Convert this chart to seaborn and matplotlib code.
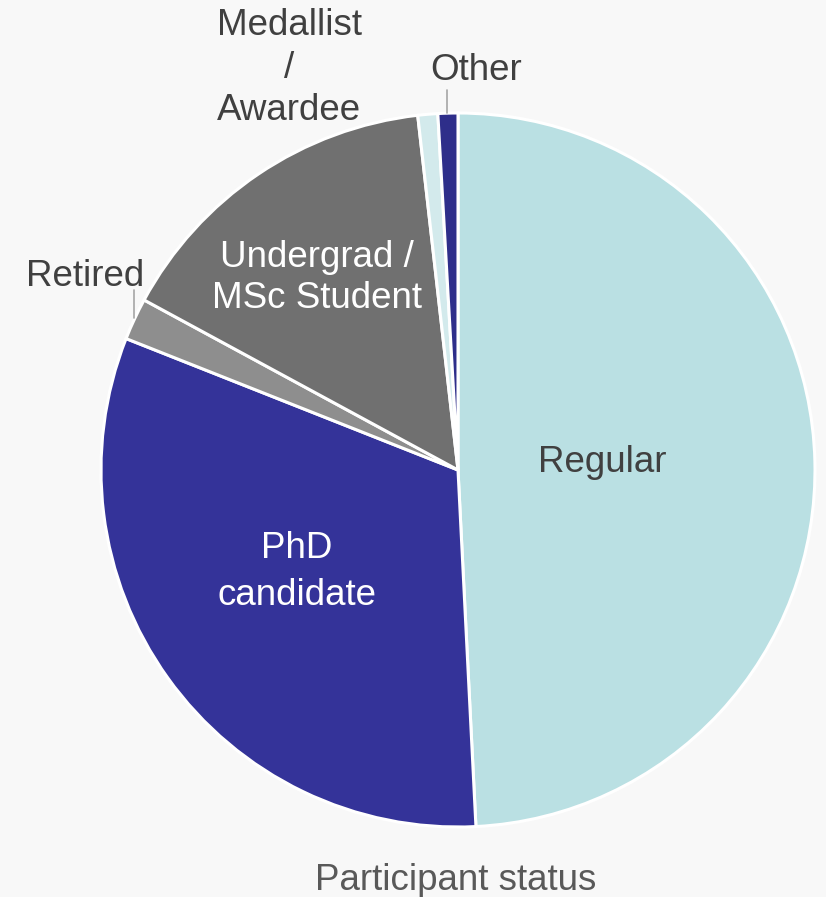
import matplotlib
matplotlib.use("Agg")
import matplotlib.pyplot as plt
import seaborn as sns

sns.set_theme(style="white")
plt.rcParams['font.family'] = ['Liberation Sans', 'DejaVu Sans']

categories = ["Regular", "PhD candidate", "Retired", "Undergrad / MSc Student",
              "Medallist / Awardee", "Other"]
values = [49.2, 31.8, 1.9, 15.3, 0.9, 0.9]
colors = ["#BAE0E3", "#343399", "#8E8E8E", "#707070", "#D3EAEC", "#2E2E8A"]
title = "Participant status"

W, H = 826, 897
fig = plt.figure(figsize=(W / 100, H / 100), dpi=100, facecolor="#F8F8F8")
cx, cy, R = 458, 470, 357
ax = fig.add_axes([(cx - R) / W, (H - cy - R) / H, 2 * R / W, 2 * R / H])
ax.set_facecolor("none")

ax.pie(values, colors=colors, startangle=90, counterclock=False,
       wedgeprops=dict(edgecolor="white", linewidth=2.2), radius=1.0)
ax.set_xlim(-1, 1)
ax.set_ylim(-1, 1)
ax.set_aspect("equal")
ax.axis("off")


def P(px, py):
    return ((px - cx) / R, (cy - py) / R)


fs = 26.5
dark = "#404040"
ax.text(*P(602, 462), "Regular", ha="center", va="center", fontsize=fs, color=dark)
ax.text(*P(297, 572), "PhD\ncandidate", ha="center", va="center", fontsize=fs,
        color="white", linespacing=1.42)
ax.text(*P(317, 278), "Undergrad /\nMSc Student", ha="center", va="center",
        fontsize=fs, color="white", linespacing=1.22)
ax.text(*P(85, 276), "Retired", ha="center", va="center", fontsize=fs, color=dark,
        clip_on=False)
ax.text(*P(289, 68), "Medallist\n/\nAwardee", ha="center", va="center", fontsize=fs,
        color=dark, linespacing=1.28, clip_on=False)
ax.text(*P(476, 70), "Other", ha="center", va="center", fontsize=fs, color=dark,
        clip_on=False)

# leader lines
for (x0, y0), (x1, y1) in [((134, 290), (134, 318)), ((447, 90), (447, 113))]:
    a, b = P(x0, y0), P(x1, y1)
    ax.plot([a[0], b[0]], [a[1], b[1]], color="#A6A6A6", lw=1.2, clip_on=False)

fig.text(456 / W, 1 - 880 / H, title, ha="center", va="center", fontsize=fs,
         color="#595959")

fig.savefig("out.png", dpi=100, facecolor=fig.get_facecolor())
